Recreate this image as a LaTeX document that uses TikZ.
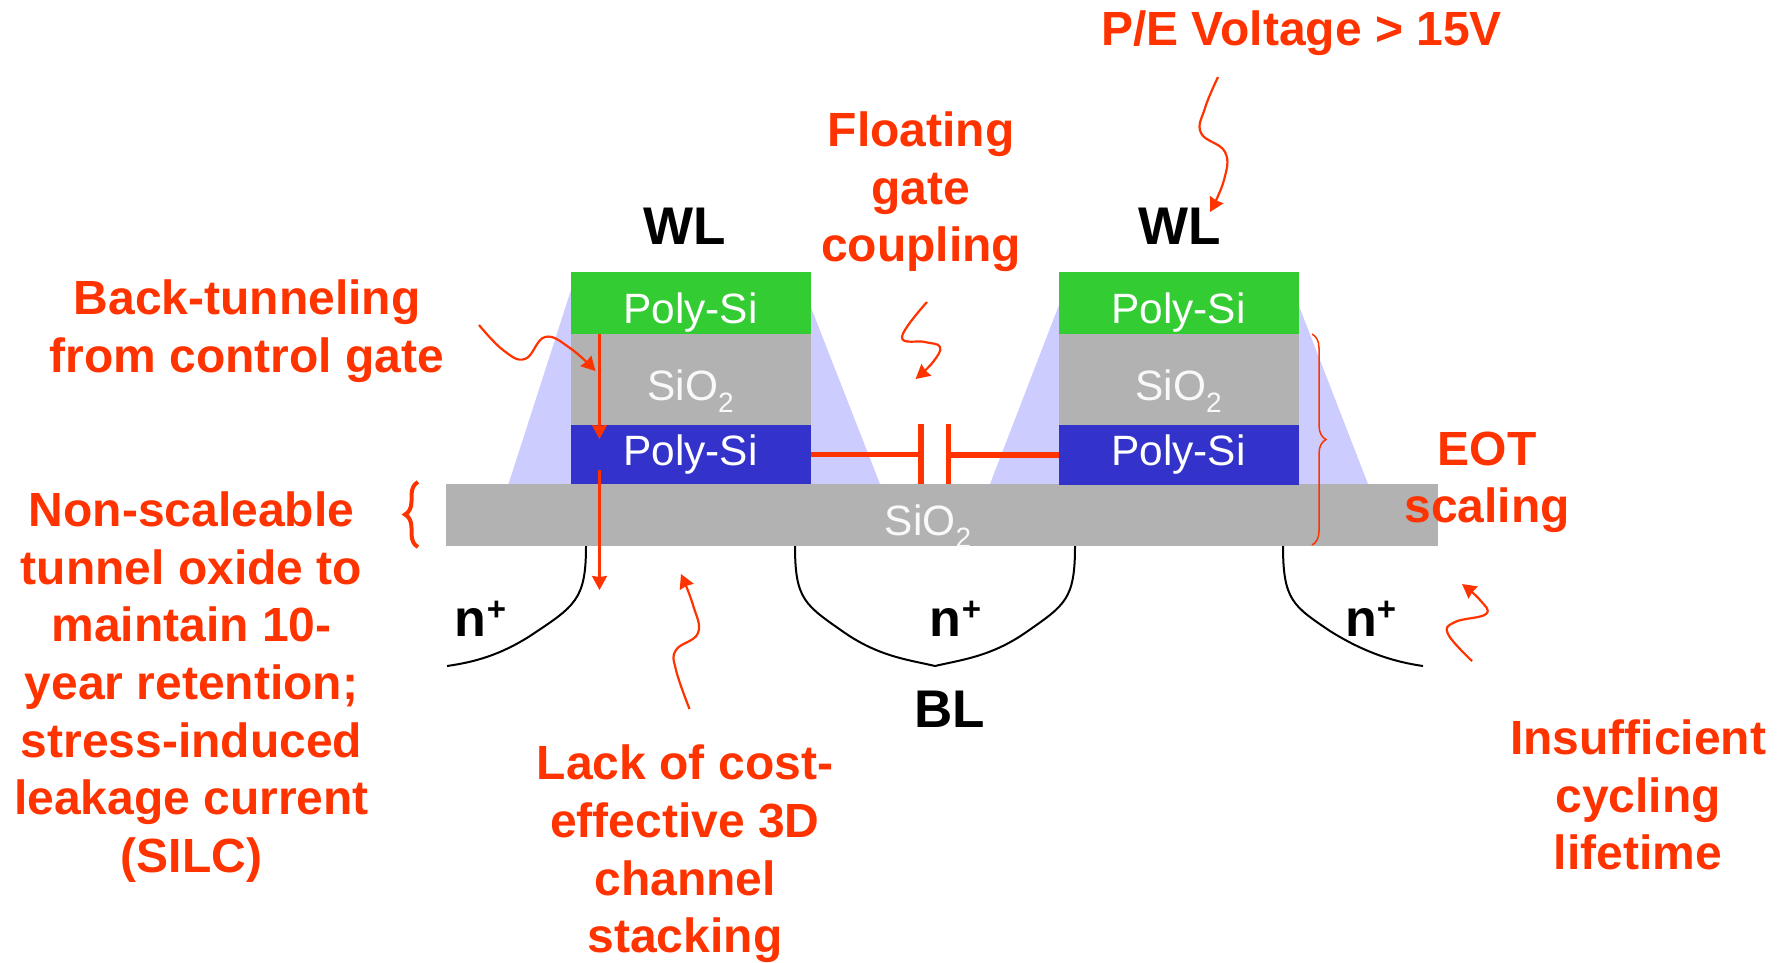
\documentclass[tikz,border=0pt]{standalone}
\usepackage{fontspec}
\setmainfont{Liberation Sans}
\usepackage{xcolor}
\usetikzlibrary{arrows.meta, positioning, decorations.pathreplacing}
\definecolor{callred}{HTML}{FF3300}
\definecolor{cgreen}{HTML}{33CC33}
\definecolor{fblue}{HTML}{3333CC}
\definecolor{oxgray}{HTML}{B2B2B2}
\definecolor{spacerblue}{HTML}{CCCCFF}
\tikzstyle{layer} = [rectangle, minimum width=240pt, inner sep=0pt, outer sep=0pt, text=white, font=\fontsize{42.4}{48}\selectfont]
\tikzstyle{cgate} = [layer, fill=cgreen, minimum height=62pt, text depth=0pt, text height=41pt]
\tikzstyle{oxide} = [layer, fill=oxgray, minimum height=91pt, text=white!92!oxgray, text depth=0pt, text height=42pt]
\tikzstyle{fgate} = [layer, fill=fblue, minimum height=59pt]
\tikzstyle{callout} = [align=center, inner sep=0pt, text=callred, font=\fontsize{48}{57.6}\selectfont\bfseries]
\tikzstyle{term} = [inner sep=0pt, text=black, font=\fontsize{53}{60}\selectfont\bfseries]
\tikzstyle{arrow} = [callred, line width=2.2pt, ->, >={Stealth[length=14pt,width=15pt,inset=1pt]}]
\tikzstyle{capline} = [callred, line width=5.5pt]
\tikzstyle{junction} = [black, line width=2pt]
\tikzstyle{spacer} = [fill=spacerblue]
\newcommand{\subtwo}{\raisebox{-.28em}{\fontsize{28}{28}\selectfont 2}}
\newcommand{\nplus}{n\raisebox{.3em}{\fontsize{33}{33}\selectfont +}}
\begin{document}
\begin{tikzpicture}[x=1pt, y=-1pt]
\useasboundingbox (0,0) rectangle (1787,962);

% sidewall spacers
\fill [spacer] (508.5,484) -- (571,290) -- (571,484) -- cycle;
\fill [spacer] (810,305) -- (880,484) -- (810,484) -- cycle;
\fill [spacer] (990,484) -- (1059,305) -- (1059,484) -- cycle;
\fill [spacer] (1298.6,305) -- (1368,484) -- (1298.6,484) -- cycle;

% tunnel oxide and the two gate stacks
\node (bar) [rectangle, fill=oxgray, minimum width=992.5pt, minimum height=62pt, inner sep=0pt, outer sep=0pt] at (941.75,514.85) {};
\node (baroxide) [inner sep=0pt, text=white!92!oxgray, font=\fontsize{42.4}{48}\selectfont] at (928,526.5) {SiO\subtwo};

\node (cgA) [cgate] at (690.5,303) {Poly-Si};
\node (oxA) [oxide, below=0pt of cgA] {SiO\subtwo};
\node (fgA) [fgate, below=0pt of oxA] {Poly-Si};
\node (cgB) [cgate] at (1178.5,303) {Poly-Si};
\node (oxB) [oxide, below=0pt of cgB] {SiO\subtwo};
\node (fgB) [fgate, minimum height=60pt, below=0pt of oxB] {Poly-Si};

% source and drain
\coordinate (jAtop) at (586,546);
\coordinate (jAend) at (447,666);
\coordinate (jBleft) at (795,546);
\coordinate (jBtip) at (935,666);
\coordinate (jBright) at (1075,546);
\coordinate (jCtop) at (1283,546);
\coordinate (jCend) at (1423,666);
\draw [junction] (jAtop) .. controls (586,600) and (575,606) .. (530,636) .. controls (500,655) and (475,662) .. (jAend);
\draw [junction] (jBleft) .. controls (795,600) and (805,605) .. (845,633) .. controls (880,657) and (910,660) .. (jBtip) .. controls (960,660) and (990,657) .. (1025,633) .. controls (1065,605) and (1075,600) .. (jBright);
\draw [junction] (jCtop) .. controls (1283,600) and (1293,606) .. (1330,631) .. controls (1365,653) and (1395,662) .. (jCend);

\node (nA) [term, font=\fontsize{52}{60}\selectfont\bfseries] at (480.5,619) {\nplus};
\node (nB) [term, font=\fontsize{52}{60}\selectfont\bfseries] at (955.5,619) {\nplus};
\node (nC) [term, font=\fontsize{52}{60}\selectfont\bfseries] at (1370.5,619) {\nplus};
\node (wlA) [term] at (684.5,226) {WL};
\node (wlB) [term] at (1180,226) {WL};
\node (bl) [term] at (950,709) {BL};

% capacitor between the floating gates
\coordinate (plateA) at (921,454);
\coordinate (plateB) at (948.7,454);
\draw [capline] (fgA.east) -- (fgA.east -| plateA);
\draw [capline] (fgB.west) -- (fgB.west -| plateB);
\draw [capline] (921,424) -- (921,484);
\draw [capline] (948.7,424) -- (948.7,484);

% tunneling path through the stack
\coordinate (tunA) at (599.5,334);
\coordinate (tunB) at (599.5,439);
\coordinate (tunC) at (599.5,470);
\coordinate (tunD) at (599.5,590);
\draw [arrow] (tunA) -- (tunB);
\draw [arrow] (tunC) -- (tunD);

% braces
\draw [callred, line width=4pt, decorate, decoration={brace, amplitude=13pt}] (418,547) -- (418,482);
\draw [callred, line width=1.5pt, decorate, decoration={brace, amplitude=14pt}] (1312,334) -- (1312,545);

% callouts
\node (pe) [callout] at (1301.6,33) {P/E Voltage > 15V};
\node (coupling) [callout] at (921,192) {Floating\\gate\\coupling};
\node (back) [callout] at (247,331) {Back-tunneling\\from control gate};
\node (silc) [callout] at (191.5,687) {Non-scaleable\\tunnel oxide to\\maintain 10-\\year retention;\\stress-induced\\leakage current\\(SILC)};
\node (stack) [callout] at (685,854) {Lack of cost-\\effective 3D\\channel\\stacking};
\node (eot) [callout] at (1487,482.5) {EOT\\scaling};
\node (cycling) [callout] at (1638,795) {Insufficient\\cycling\\lifetime};

% wavy pointers
\coordinate (peS) at (1218,77);
\coordinate (peT) at (1210,212);
\coordinate (fgS) at (927,302);
\coordinate (fgT) at (915.6,379);
\coordinate (btS) at (479,325);
\coordinate (btT) at (595.5,371);
\coordinate (lkS) at (689.5,709);
\coordinate (lkT) at (681,574);
\coordinate (cyS) at (1472,661);
\coordinate (cyT) at (1462,584);
\draw [arrow] plot [smooth, tension=.7] coordinates {(peS) (1205,108) (1201,133) (1225,152) (1224,180) (peT)};
\draw [arrow] plot [smooth, tension=.7] coordinates {(fgS) (902,337) (925,342) (940,347) (933,362) (fgT)};
\draw [arrow] plot [smooth, tension=.7] coordinates {(btS) (503,350) (525,359) (545,337) (570,348) (btT)};
\draw [arrow] plot [smooth, tension=.7] coordinates {(lkS) (676,670) (676,650) (698,633) (693,605) (lkT)};
\draw [arrow] plot [smooth, tension=.7] coordinates {(cyS) (1448,634) (1455,622) (1486,614) (1480,600) (cyT)};
\end{tikzpicture}
\end{document}
